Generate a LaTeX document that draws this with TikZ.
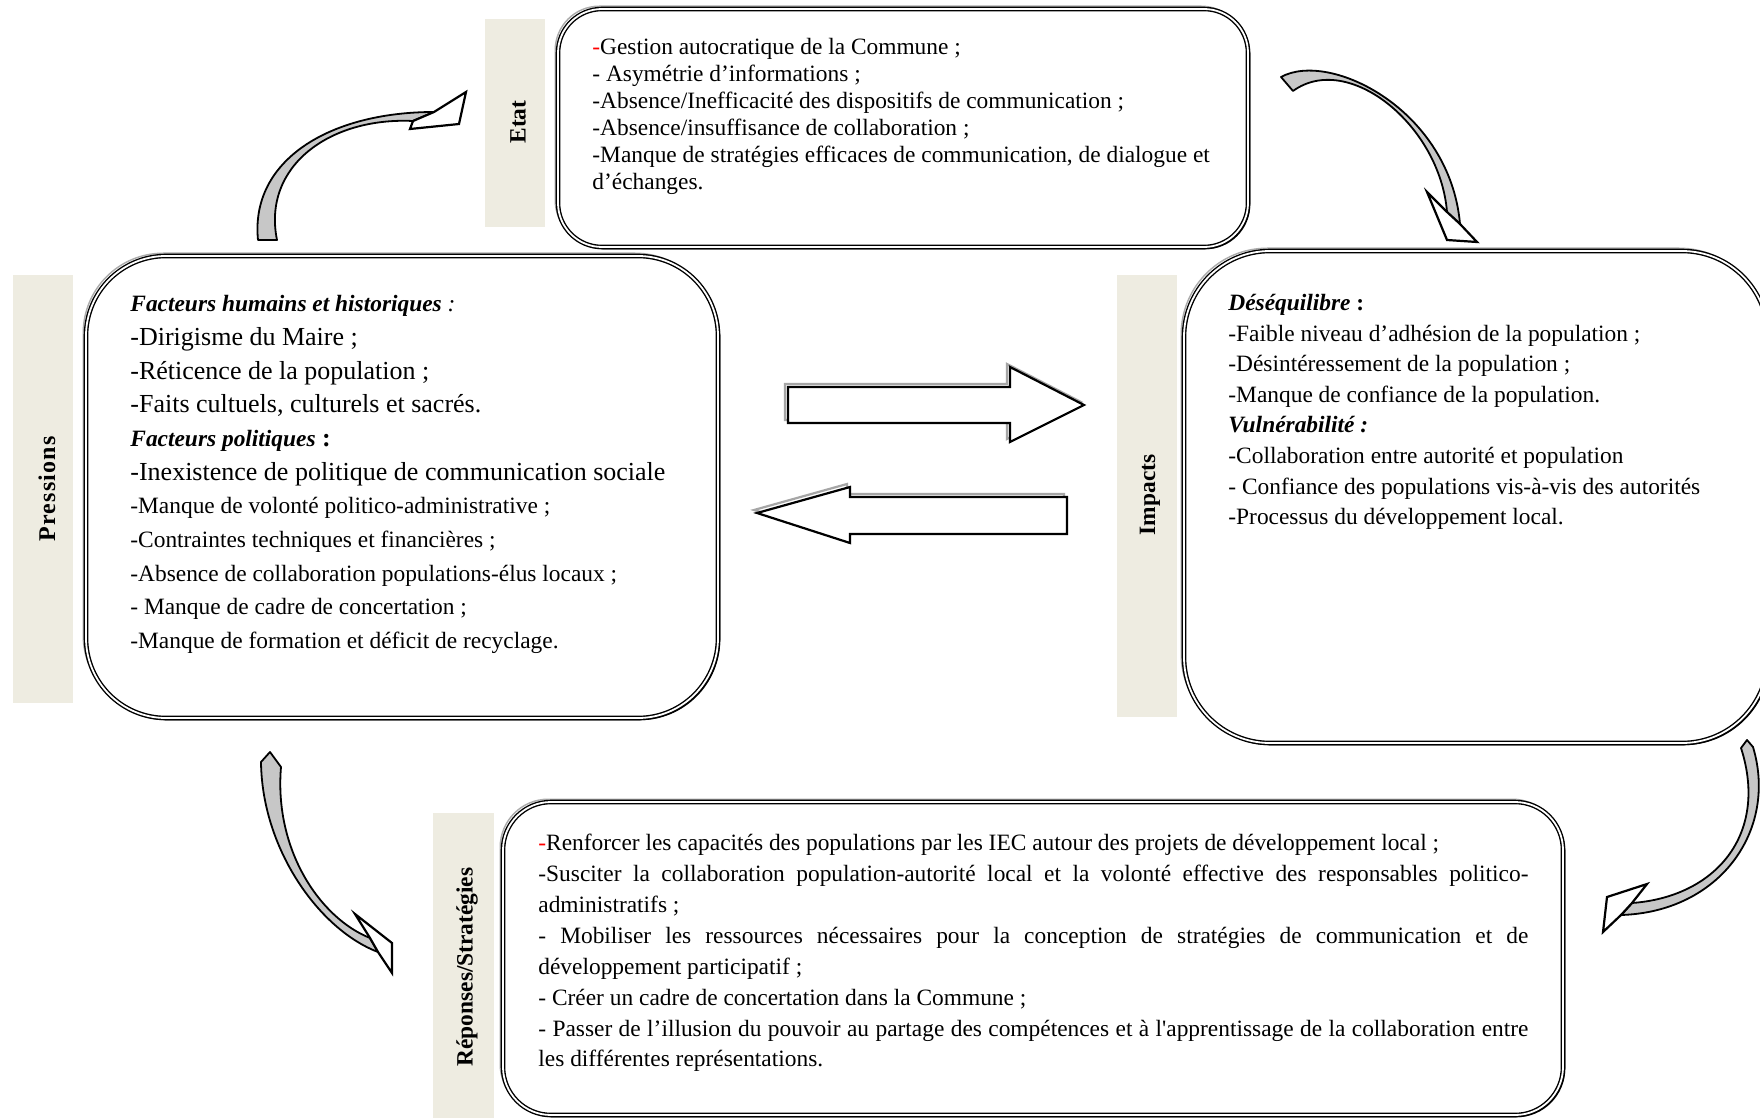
\documentclass[tikz,border=0pt]{standalone}
\usepackage{fontspec}
\setmainfont{Liberation Serif}
\setlength{\parindent}{0pt}
\definecolor{barfill}{HTML}{EEECE1}
\begin{document}
\begin{tikzpicture}[x=0.5pt,y=-0.5pt,
  bar/.style={fill=barfill, draw=none, inner sep=0pt},
  lbl/.style={rotate=90, font=\fontsize{11.7}{14}\selectfont\bfseries, inner sep=0pt},
  frame/.style={draw=black, line width=0.7pt, double=white, double distance=0.9pt, fill=white, inner sep=0pt,
     preaction={draw=gray!65, line width=0.7pt, transform canvas={xshift=-1.4pt,yshift=1.4pt}},
     preaction={draw=black, line width=0.9pt, transform canvas={xshift=0.7pt,yshift=-0.7pt}}},
  txt/.style={anchor=north west, inner sep=0pt, align=left},
  blockarrow/.style={draw=black, line width=1.1pt, fill=white, line join=miter},
  blockshadow/.style={draw=gray!70, line width=1.1pt, line join=miter},
  ribbon/.style={draw=black, line width=0.9pt, fill=black!22, line join=round},
  ahead/.style={draw=black, line width=1.1pt, fill=white, line join=miter}
]
\useasboundingbox (0,0) rectangle (1760,1118);
\clip (0,0) rectangle (1760,1118);
\fill[white] (0,0) rectangle (1760,1118);

% side bars with labels
\node[bar, minimum width=30pt, minimum height=104pt] (ebar) at (515,123) {};
\node[bar, minimum width=30pt, minimum height=214pt] (pbar) at (43,489) {};
\node[bar, minimum width=30pt, minimum height=221pt] (ibar) at (1147,496) {};
\node[bar, minimum width=30.5pt, minimum height=153.5pt] (rbar) at (463.5,966.5) {};
\node[lbl] (elbl) at (518,122) {Etat};
\node[lbl, font=\fontsize{12}{14}\selectfont\bfseries\addfontfeature{LetterSpace=5}] (plbl) at (47,489) {Pressions};
\node[lbl] (ilbl) at (1150,495) {Impacts};
\node[lbl] (rlbl) at (467,967) {Réponses/Stratégies};

% boxes
\node[frame, rounded corners=22pt, minimum width=345pt, minimum height=119pt] (ebox) at (903,128) {};
\node[frame, rounded corners=40pt, minimum width=316pt, minimum height=231pt] (pbox) at (402,487) {};
\node[frame, rounded corners=43pt, minimum width=292pt, minimum height=246pt] (ibox) at (1476,497) {};
\node[frame, rounded corners=24pt, minimum width=530pt, minimum height=156.5pt] (rbox) at (1033,958.5) {};

% texts
\node[txt, font=\fontsize{11.7}{13.5}\selectfont] (etxt) at (592,38) {%
{\color{red}-}Gestion autocratique de la Commune ;\\
- Asymétrie d’informations ;\\
-Absence/Inefficacité des dispositifs de communication ;\\
-Absence/insuffisance de collaboration ;\\
-Manque de stratégies efficaces de communication, de dialogue et\\
d’échanges.};

\node[txt, font=\fontsize{11.7}{16.85}\selectfont] (ptxt) at (130,295) {%
\textbf{\textit{Facteurs humains et historiques}}\textit{ :}\\
{\fontsize{13}{16.85}\selectfont -Dirigisme du Maire ;}\\
{\fontsize{13}{16.85}\selectfont -Réticence de la population ;}\\
{\fontsize{13}{16.85}\selectfont -Faits cultuels, culturels et sacrés.}\\
\textbf{\textit{Facteurs politiques}}{\fontsize{13}{16.85}\selectfont\textbf{ :}}\\
{\fontsize{13}{16.85}\selectfont -Inexistence de politique de communication sociale}\\
-Manque de volonté politico-administrative ;\\
-Contraintes techniques et financières ;\\
-Absence de collaboration populations-élus locaux ;\\
- Manque de cadre de concertation ;\\
-Manque de formation et déficit de recyclage.};

\node[txt, font=\fontsize{11.7}{15.29}\selectfont] (itxt) at (1228,294) {%
\textbf{\textit{Déséquilibre}}\textbf{ :}\\
-Faible niveau d’adhésion de la population ;\\
-Désintéressement de la population ;\\
-Manque de confiance de la population.\\
\textbf{\textit{Vulnérabilité :}}\\
-Collaboration entre autorité et population\\
- Confiance des populations vis-à-vis des autorités\\
-Processus du développement local.};

\node[txt, align=justify, text width=495pt, font=\fontsize{11.7}{15.43}\selectfont] (rtxt) at (538,834) {%
{\color{red}-}Renforcer les capacités des populations par les IEC autour des projets de développement local ;\par
-Susciter la collaboration population-autorité local et la volonté effective des responsables politico-\linebreak administratifs ;\par
- Mobiliser les ressources nécessaires pour la conception de stratégies de communication et de \linebreak développement participatif ;\par
- Créer un cadre de concertation dans la Commune ;\par
- Passer de l’illusion du pouvoir au partage des compétences et à l\textquotesingle apprentissage de la collaboration entre \linebreak les différentes représentations.\par};

% block arrows
\draw[blockshadow, shift={(-3,-3)}] (788,387) -- (1010,387) -- (1010,367) -- (1084,405) -- (1010,442) -- (1010,423) -- (788,423) -- cycle;
\draw[blockarrow] (788,387) -- (1010,387) -- (1010,367) -- (1084,405) -- (1010,442) -- (1010,423) -- (788,423) -- cycle;
\draw[blockshadow, shift={(-3,-3)}] (1067,497) -- (850,497) -- (850,487) -- (757,513) -- (850,543) -- (850,534) -- (1067,534) -- cycle;
\draw[blockarrow] (1067,497) -- (850,497) -- (850,487) -- (757,513) -- (850,543) -- (850,534) -- (1067,534) -- cycle;

% curved arrows
% A: Pressions -> Etat
\draw[ribbon] (258,240) .. controls (250,160) and (330,112) .. (434,112) -- (413,121) .. controls (330,117) and (262,166) .. (277,240) -- cycle;
\draw[ahead] (434,112) -- (466,92) -- (459,124) -- (410,129) -- (413,121) -- cycle;
% B: Etat -> Impacts
\draw[ribbon] (1281,77) .. controls (1330,50) and (1450,110) .. (1460,224) -- (1447,212) .. controls (1440,125) and (1348,51) .. (1293,91) -- cycle;
\draw[ahead] (1460,224) -- (1477,242) -- (1447,240) -- (1427,192) -- (1447,212) -- cycle;
% C: Pressions -> Reponses
\draw[ribbon] (261,762) .. controls (262,850) and (320,930) .. (378,952) -- (370,938) .. controls (320,918) and (274,850) .. (281,767) -- (270,752) -- cycle;
\draw[ahead] (378,952) -- (392,973) -- (392,943) -- (355,914) -- (370,938) -- cycle;
% D: Impacts -> Reponses
\draw[ribbon] (1753,747) .. controls (1778,830) and (1720,912) .. (1621,915) -- (1632,903) .. controls (1715,897) and (1769,835) .. (1741,748) -- (1747,740) -- cycle;
\draw[ahead] (1621,915) -- (1603,932) -- (1607,897) -- (1647,884) -- (1632,903) -- cycle;
\end{tikzpicture}
\end{document}
